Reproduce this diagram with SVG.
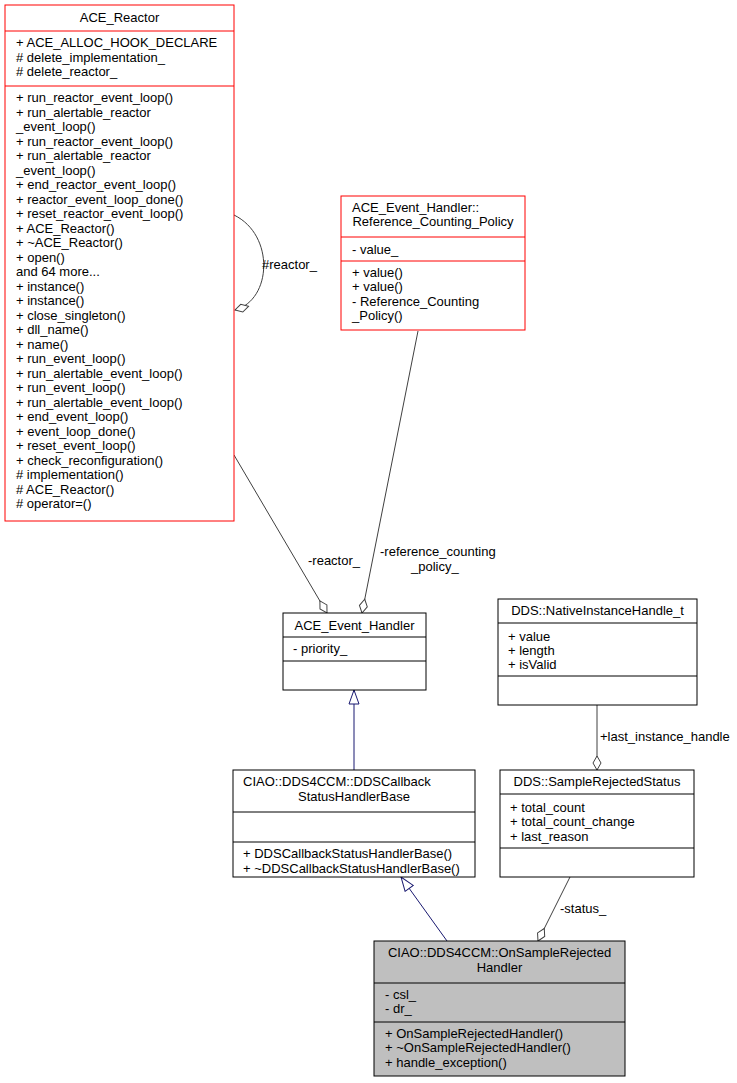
<svg xmlns="http://www.w3.org/2000/svg" width="737" height="1083" viewBox="0 0 737 1083">
<style>
text{font-family:"Liberation Sans",Arial,sans-serif;font-size:13px;fill:#000}
.c{text-anchor:middle}
.box{fill:#fff;stroke:#000;stroke-width:1}
.red{fill:#fff;stroke:#ff0000;stroke-width:1}
.sel{fill:#bfbfbf;stroke:#000;stroke-width:1}
.sepr{stroke:#ff0000}
.sep{stroke:#000}
.agg{fill:none;stroke:#404040;stroke-width:1}
.inh{fill:none;stroke:#191970;stroke-width:1}
</style>
<defs>
<marker id="dia" viewBox="0 0 16 10" refX="15" refY="5" markerWidth="16" markerHeight="10" markerUnits="userSpaceOnUse" orient="auto">
<path d="M1,5 L8,1 L15,5 L8,9 Z" fill="#fff" stroke="#404040"/>
</marker>
<marker id="tri" viewBox="0 0 16 12" refX="15" refY="6" markerWidth="16" markerHeight="12" markerUnits="userSpaceOnUse" orient="auto">
<path d="M1,1 L15,6 L1,11 Z" fill="#fff" stroke="#191970"/>
</marker>
</defs>
<g id="connectors">
<path class="agg" d="M234,215 C275,235 272,300 235,310" marker-end="url(#dia)"/>
<text x="262" y="269">#reactor_</text>
<path class="agg" d="M234,455 L327,613" marker-end="url(#dia)"/>
<text x="308" y="565">-reactor_</text>
<path class="agg" d="M418,331 L362,613" marker-end="url(#dia)"/>
<text x="380" y="556">-reference_counting</text>
<text x="411" y="571">_policy_</text>
<path class="inh" d="M354,770 L354,690" marker-end="url(#tri)"/>
<path class="inh" d="M447,941 L401,877" marker-end="url(#tri)"/>
<path class="agg" d="M597,705 L597,770" marker-end="url(#dia)"/>
<text x="600" y="741">+last_instance_handle</text>
<path class="agg" d="M570,877 L538,941" marker-end="url(#dia)"/>
<text x="560" y="913">-status_</text>
</g>
<g id="ACE_Reactor">
<rect class="red" x="5" y="5" width="229" height="516"/>
<line class="sepr" x1="5" y1="31" x2="234" y2="31"/>
<line class="sepr" x1="5" y1="86" x2="234" y2="86"/>
<text class="c" x="119.5" y="22">ACE_Reactor</text>
<text x="16" y="47">+ ACE_ALLOC_HOOK_DECLARE</text>
<text x="16" y="62"># delete_implementation_</text>
<text x="16" y="76"># delete_reactor_</text>
<text x="16" y="102">+ run_reactor_event_loop()</text>
<text x="16" y="117">+ run_alertable_reactor</text>
<text x="16" y="131">_event_loop()</text>
<text x="16" y="146">+ run_reactor_event_loop()</text>
<text x="16" y="160">+ run_alertable_reactor</text>
<text x="16" y="175">_event_loop()</text>
<text x="16" y="189">+ end_reactor_event_loop()</text>
<text x="16" y="204">+ reactor_event_loop_done()</text>
<text x="16" y="218">+ reset_reactor_event_loop()</text>
<text x="16" y="233">+ ACE_Reactor()</text>
<text x="16" y="247">+ ~ACE_Reactor()</text>
<text x="16" y="262">+ open()</text>
<text x="16" y="276">and 64 more...</text>
<text x="16" y="291">+ instance()</text>
<text x="16" y="305">+ instance()</text>
<text x="16" y="320">+ close_singleton()</text>
<text x="16" y="334">+ dll_name()</text>
<text x="16" y="349">+ name()</text>
<text x="16" y="363">+ run_event_loop()</text>
<text x="16" y="378">+ run_alertable_event_loop()</text>
<text x="16" y="392">+ run_event_loop()</text>
<text x="16" y="407">+ run_alertable_event_loop()</text>
<text x="16" y="421">+ end_event_loop()</text>
<text x="16" y="436">+ event_loop_done()</text>
<text x="16" y="450">+ reset_event_loop()</text>
<text x="16" y="465">+ check_reconfiguration()</text>
<text x="16" y="479"># implementation()</text>
<text x="16" y="494"># ACE_Reactor()</text>
<text x="16" y="508"># operator=()</text>
</g>
<g id="Reference_Counting_Policy">
<rect class="red" x="341" y="196" width="184" height="134"/>
<line class="sepr" x1="341" y1="237" x2="525" y2="237"/>
<line class="sepr" x1="341" y1="261" x2="525" y2="261"/>
<text x="352" y="212">ACE_Event_Handler::</text>
<text class="c" x="433" y="226">Reference_Counting_Policy</text>
<text x="352" y="254">- value_</text>
<text x="352" y="277">+ value()</text>
<text x="352" y="291">+ value()</text>
<text x="352" y="306">- Reference_Counting</text>
<text x="352" y="320">_Policy()</text>
</g>
<g id="ACE_Event_Handler">
<rect class="box" x="283" y="613" width="143" height="77"/>
<line class="sep" x1="283" y1="637" x2="426" y2="637"/>
<line class="sep" x1="283" y1="661" x2="426" y2="661"/>
<text class="c" x="354.5" y="630">ACE_Event_Handler</text>
<text x="293" y="653">- priority_</text>
</g>
<g id="NativeInstanceHandle_t">
<rect class="box" x="498" y="599" width="199" height="106"/>
<line class="sep" x1="498" y1="623" x2="697" y2="623"/>
<line class="sep" x1="498" y1="676" x2="697" y2="676"/>
<text class="c" x="597.5" y="615">DDS::NativeInstanceHandle_t</text>
<text x="508" y="641">+ value</text>
<text x="508" y="655">+ length</text>
<text x="508" y="669">+ isValid</text>
</g>
<g id="DDSCallbackStatusHandlerBase">
<rect class="box" x="233" y="770" width="242" height="107"/>
<line class="sep" x1="233" y1="812" x2="475" y2="812"/>
<line class="sep" x1="233" y1="842" x2="475" y2="842"/>
<text x="243" y="786">CIAO::DDS4CCM::DDSCallback</text>
<text class="c" x="354" y="801">StatusHandlerBase</text>
<text x="243" y="858">+ DDSCallbackStatusHandlerBase()</text>
<text x="243" y="872.5">+ ~DDSCallbackStatusHandlerBase()</text>
</g>
<g id="SampleRejectedStatus">
<rect class="box" x="500" y="770" width="194" height="107"/>
<line class="sep" x1="500" y1="794" x2="694" y2="794"/>
<line class="sep" x1="500" y1="848" x2="694" y2="848"/>
<text class="c" x="597" y="786">DDS::SampleRejectedStatus</text>
<text x="510" y="812">+ total_count</text>
<text x="510" y="826">+ total_count_change</text>
<text x="510" y="841">+ last_reason</text>
</g>
<g id="OnSampleRejectedHandler">
<rect class="sel" x="374" y="941" width="251" height="135"/>
<line class="sep" x1="374" y1="983" x2="625" y2="983"/>
<line class="sep" x1="374" y1="1022" x2="625" y2="1022"/>
<text class="c" x="499.5" y="957">CIAO::DDS4CCM::OnSampleRejected</text>
<text class="c" x="499.5" y="972">Handler</text>
<text x="385" y="999">- csl_</text>
<text x="385" y="1013">- dr_</text>
<text x="385" y="1038">+ OnSampleRejectedHandler()</text>
<text x="385" y="1052">+ ~OnSampleRejectedHandler()</text>
<text x="385" y="1067">+ handle_exception()</text>
</g>
</svg>
